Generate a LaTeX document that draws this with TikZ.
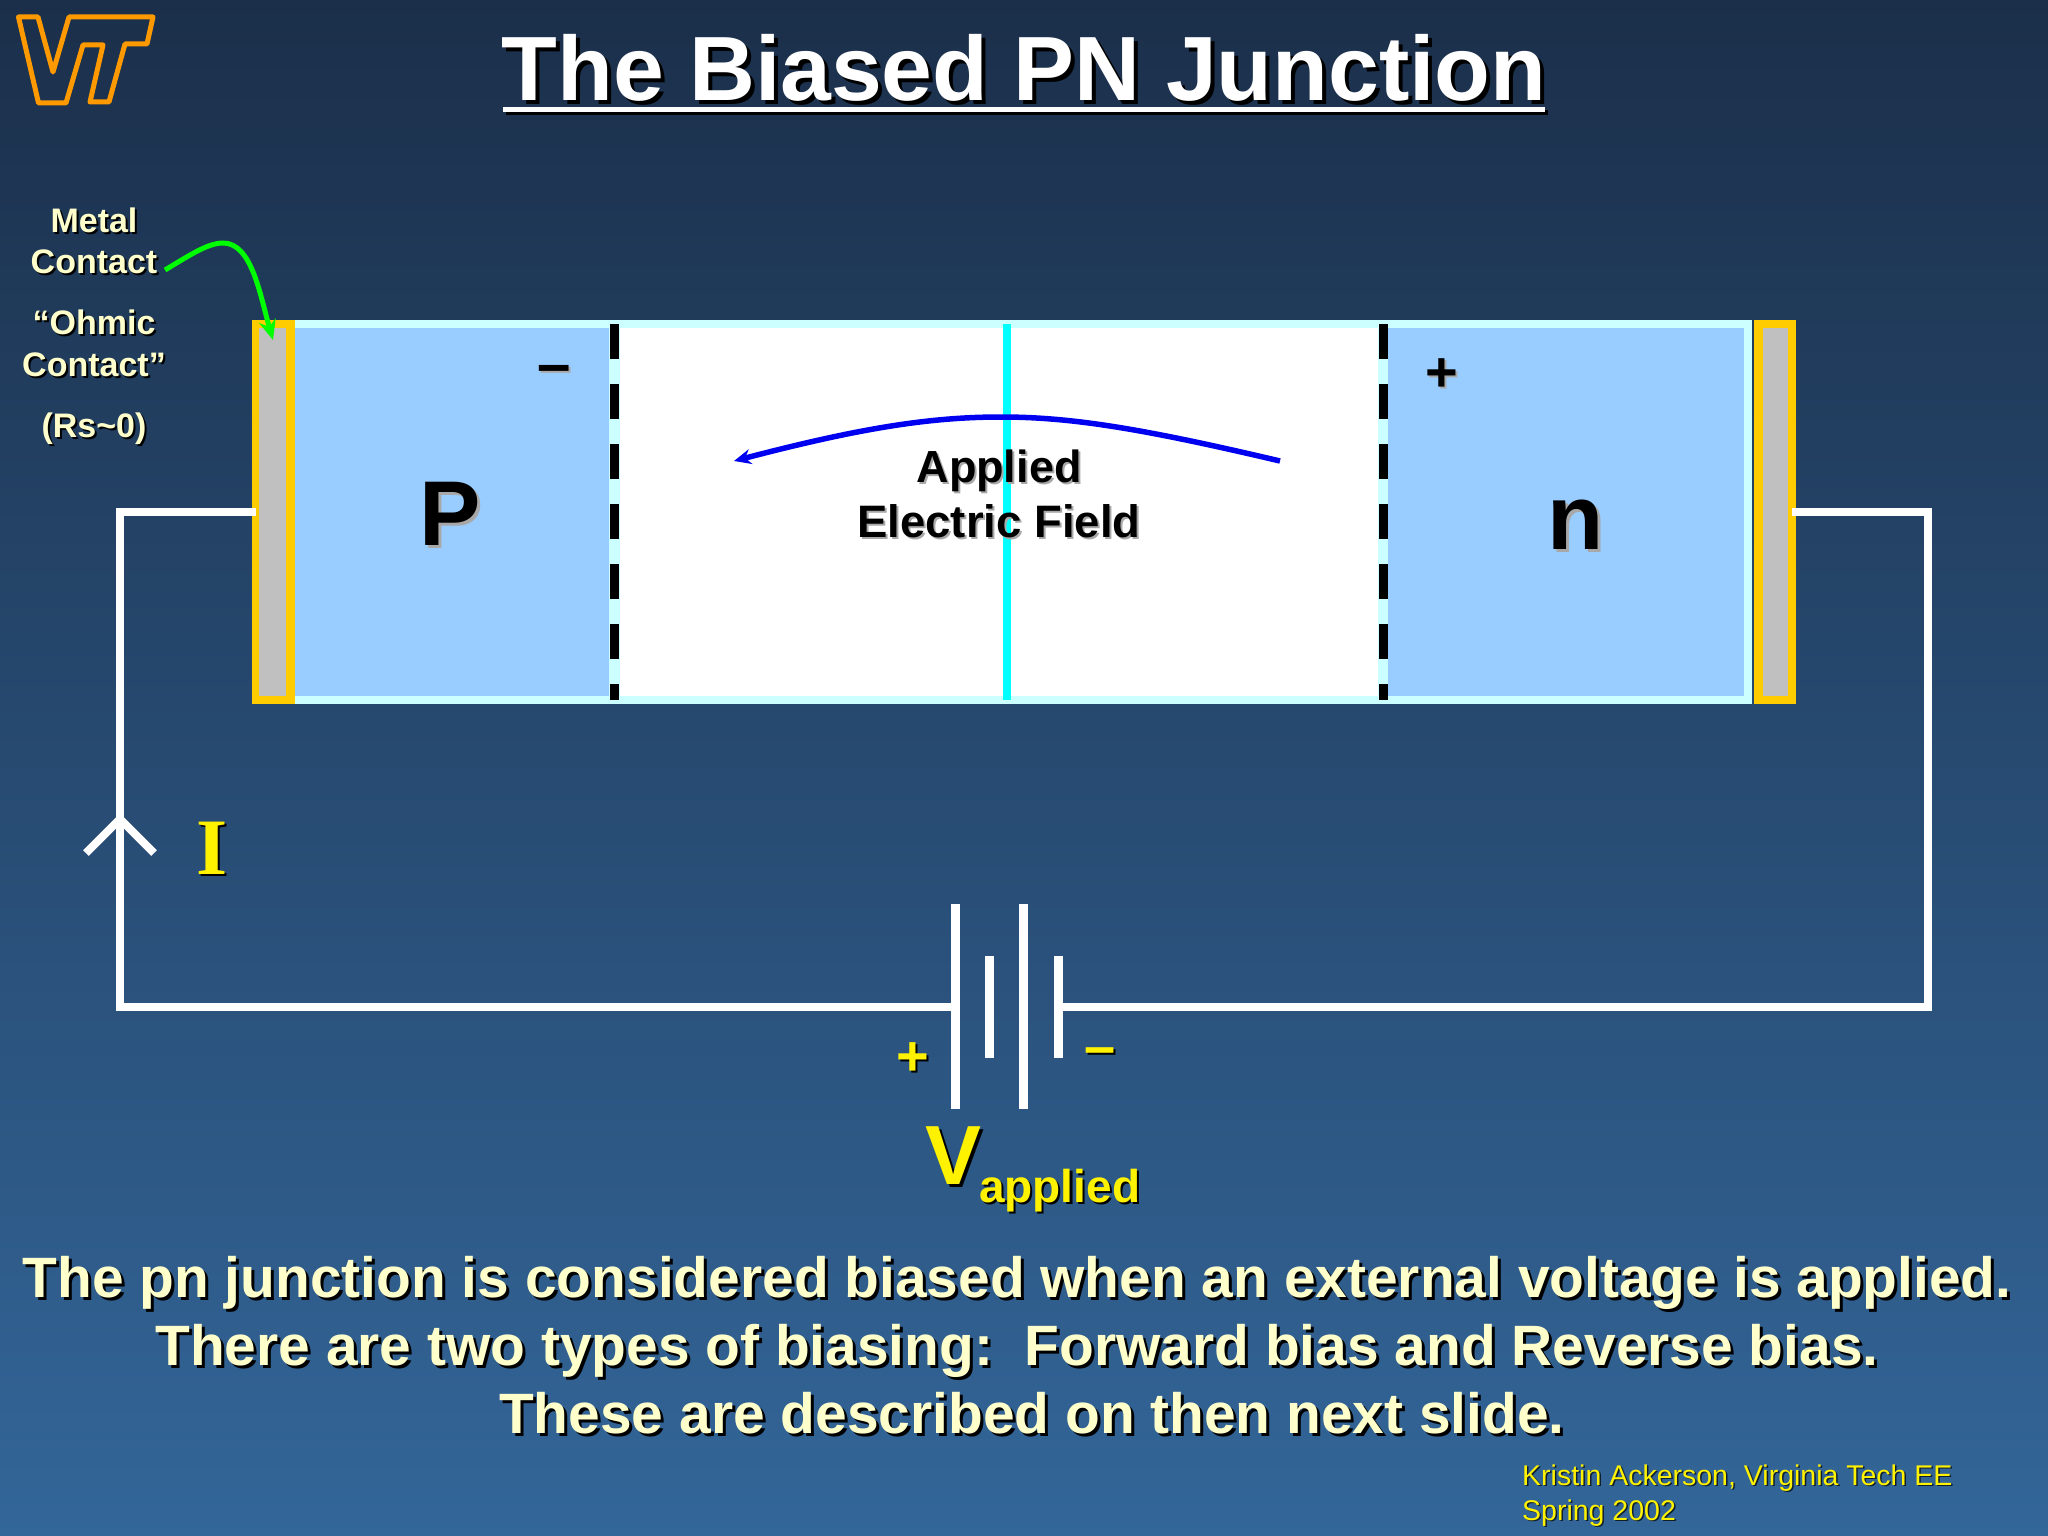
\documentclass[tikz,border=0pt]{standalone}
\usepackage{fontspec}
\setmainfont{Liberation Sans}
\usetikzlibrary{arrows.meta}
\definecolor{bgtop}{HTML}{1B2F4A}
\definecolor{bgbot}{HTML}{336699}
\definecolor{cream}{HTML}{FFFFCC}
\definecolor{lite}{HTML}{CCFFFF}
\definecolor{pblue}{HTML}{99CCFF}
\definecolor{gold}{HTML}{FFCC00}
\definecolor{metal}{HTML}{C0C0C0}
\definecolor{vt}{HTML}{FF9900}
\definecolor{junc}{RGB}{0,255,255}
\definecolor{fieldblue}{RGB}{0,0,240}
\definecolor{brightgreen}{RGB}{0,255,0}
\definecolor{softshadow}{HTML}{A8A8A8}
\newcommand{\shtxt}[4][3]{{\fontsize{#2}{#2}\bfseries\makebox[0pt][l]{\hspace{#1pt}\raisebox{-#1pt}{\color{black}#4}}\textcolor{#3}{#4}}}
\newcommand{\shgray}[3][2]{{\fontsize{#2}{#2}\bfseries\makebox[0pt][l]{\hspace{#1pt}\raisebox{-#1pt}{\color{softshadow}#3}}\textcolor{black}{#3}}}
\newcommand{\shreg}[1]{{\fontsize{28.5}{28.5}\selectfont\makebox[0pt][l]{\hspace{1.5pt}\raisebox{-1.5pt}{\color{black!70!bgbot}#1}}\textcolor{yellow}{#1}}}
\tikzset{x=1pt,y=-1pt,
  wire/.style={draw=white,line width=8pt},
  plate/.style={draw=white,line width=9pt},
  lab/.style={inner sep=0pt,anchor=center},
  blab/.style={inner sep=0pt,anchor=base}}
\begin{document}
\begin{tikzpicture}
\useasboundingbox (0,0) rectangle (2048,1536);
\shade[top color=bgtop,bottom color=bgbot] (0,0) rectangle (2048,1536);
% logo
\draw[vt,line width=5pt,line join=round] (18.5,17) -- (38,17) -- (53,72) -- (69,17) -- (153,17) -- (147,44) -- (125,44) -- (109,102) -- (90,102) -- (103,45) -- (83,45) -- (66,103) -- (38.5,103) -- cycle;
% device
\fill[lite] (295,320) rectangle (1752,704);
\fill[pblue] (295,328) rectangle (609,696);
\fill[pblue] (1388,328) rectangle (1744,696);
\fill[white] (620,328) rectangle (1378,696);
\fill[gold] (252,320) rectangle (295,704);
\fill[metal] (259,328) rectangle (286,696);
\fill[gold] (1754,320) rectangle (1796,704);
\fill[metal] (1763,328) rectangle (1788,696);
\coordinate (dlt) at (614,324); \coordinate (dlb) at (614,700);
\coordinate (drt) at (1383,324); \coordinate (drb) at (1383,700);
\draw[black,line width=9pt,dash pattern=on 35pt off 25pt] (dlt) -- (dlb);
\draw[black,line width=9pt,dash pattern=on 35pt off 25pt] (drt) -- (drb);
\coordinate (jt) at (1007,324); \coordinate (jb) at (1007,700);
\draw[junc,line width=8pt] (jt) -- (jb);
% wires
\coordinate (lc) at (256,512); \coordinate (rc) at (1792,512);
\coordinate (tl) at (120,512); \coordinate (tr) at (1928,512);
\coordinate (bl) at (120,1007); \coordinate (br) at (1928,1007);
\coordinate (p1t) at (955.5,904); \coordinate (p1b) at (955.5,1109);
\coordinate (p2t) at (989.5,956); \coordinate (p2b) at (989.5,1058);
\coordinate (p3t) at (1023.5,904); \coordinate (p3b) at (1023.5,1109);
\coordinate (p4t) at (1058.5,956); \coordinate (p4b) at (1058.5,1058);
\draw[wire,line join=miter] (lc) -- (tl) -- (bl) -- (p1b |- bl);
\draw[wire,line join=miter] (rc) -- (tr) -- (br) -- (p4b |- br);
\draw[plate] (p1t) -- (p1b);
\draw[plate] (p2t) -- (p2b);
\draw[plate] (p3t) -- (p3b);
\draw[plate] (p4t) -- (p4b);
\coordinate (ca) at (86,853); \coordinate (cb) at (120,819); \coordinate (cc) at (154,853);
\draw[wire,line width=8pt] (ca) -- (cb) -- (cc);
% arrows
\coordinate (fs) at (1280,461); \coordinate (fe) at (734,461);
\draw[fieldblue,line width=5.5pt,-{Stealth[length=17pt,width=15pt]}] (fs) .. controls (1140,428) and (1070,417) .. (1001,417) .. controls (930,417) and (860,428) .. (fe);
\coordinate (gs) at (165,270); \coordinate (ge) at (273,340);
\draw[brightgreen,line width=5pt,-{Stealth[length=20pt,width=17pt]}] (gs) .. controls (190,255) and (208,243) .. (223,243) .. controls (252,243) and (260,295) .. (ge);
% texts
\node[lab] (title) at (1024,70) {\shtxt[4]{91.3}{white}{The Biased PN Junction}};
\coordinate (ul) at (503,110); \coordinate (ur) at (1545,110);
\draw[black,line width=5pt] ([shift={(3,3)}]ul) -- ([shift={(3,3)}]ur);
\draw[white,line width=5pt] (ul) -- (ur);
\node[blab] (m1) at (94,232) {\shtxt[2]{34}{cream}{Metal}};
\node[blab] (m2) at (94,273) {\shtxt[2]{34}{cream}{Contact}};
\node[blab] (o1) at (94,334) {\shtxt[2]{34}{cream}{“Ohmic}};
\node[blab] (o2) at (94,376) {\shtxt[2]{34}{cream}{Contact”}};
\node[blab] (rs) at (94,437) {\shtxt[2]{34}{cream}{(Rs\textasciitilde 0)}};
\node[lab] (minus) at (554,376) {\shgray{60}{–}};
\node[lab] (plus) at (1442,376) {\shgray{56}{+}};
\node[lab] (P) at (450,515) {\shgray[3]{92}{P}};
\node[lab] (n) at (1576,526) {\shgray[3]{92}{n}};
\node[lab] (a1) at (999,472) {\shgray{45}{Applied}};
\node[lab] (a2) at (999,522) {\shgray{45.5}{Electric Field}};
\node[lab] (I) at (212,849) {\fontspec{Liberation Serif}\shtxt[2]{80}{yellow}{I}};
\node[lab] (bp) at (913,1060) {\shtxt[2]{56}{yellow}{+}};
\node[lab] (bm) at (1100,1058) {\shtxt[2]{56}{yellow}{–}};
\node[inner sep=0pt,anchor=base west] (V) at (925,1184) {\shtxt{84}{yellow}{V}};
\node[inner sep=0pt,anchor=base west] (app) at (979,1202) {\shtxt[2]{46}{yellow}{applied}};
\node[blab] (t1) at (1017,1297) {\shtxt{56.9}{cream}{The pn junction is considered biased when an external voltage is applied.}};
\node[blab] (t2) at (1017,1365) {\shtxt{56.9}{cream}{There are two types of biasing:\ \ Forward bias and Reverse bias.}};
\node[blab] (t3) at (1032,1433) {\shtxt{56.9}{cream}{These are described on then next slide.}};
\node[inner sep=0pt,anchor=base west] (c1) at (1522,1485) {\shreg{Kristin Ackerson, Virginia Tech EE}};
\node[inner sep=0pt,anchor=base west] (c2) at (1522,1520) {\shreg{Spring 2002}};
\end{tikzpicture}
\end{document}
